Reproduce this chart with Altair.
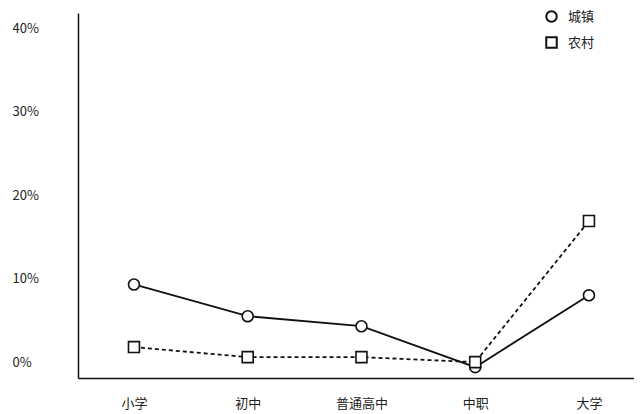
import altair as alt
import pandas as pd

categories = ["小学", "初中", "普通高中", "中职", "大学"]
urban = [9.3, 5.5, 4.3, -0.6, 8.0]
rural = [1.8, 0.6, 0.6, 0.0, 16.9]
series_names = ["城镇", "农村"]

rows = []
for s, vals in zip(series_names, [urban, rural]):
    for c, v in zip(categories, vals):
        rows.append({"cat": c, "value": v, "series": s})
df = pd.DataFrame(rows)

font = "Noto Sans CJK SC"

x = alt.X("cat:N", sort=categories, title=None,
          scale=alt.Scale(type="point", padding=0.444, align=0.554),
          axis=alt.Axis(labelAngle=0, ticks=False, labelPadding=19, labelFontSize=13,
                        labelColor="#222", labelFont=font, domainColor="#111", domainWidth=1.5))
y = alt.Y("value:Q", title=None,
          scale=alt.Scale(domain=[-1.9, 41.8], nice=False, zero=False),
          axis=alt.Axis(values=[0, 10, 20, 30, 40], labelExpr="datum.value + '%'", ticks=False,
                        tickSize=0, labelAlign="left", labelPadding=66, labelFontSize=13,
                        labelColor="#222", labelFont=font, grid=False,
                        domainColor="#111", domainWidth=1.5))

legend = alt.Legend(title=None, orient="none", legendX=467, legendY=-3,
                    labelFont=font, labelFontSize=13, labelColor="#222",
                    symbolSize=110, symbolStrokeColor="#111",
                    symbolStrokeWidth=2, symbolOpacity=1,
                    rowPadding=7, labelOffset=10)

base = alt.Chart(df)
line_urban = base.transform_filter(alt.datum.series == series_names[0]).mark_line(
    color="#111", strokeWidth=1.8).encode(x=x, y=y)
line_rural = base.transform_filter(alt.datum.series == series_names[1]).mark_line(
    color="#111", strokeWidth=1.8, strokeDash=[4, 3]).encode(x=x, y=y)

points = base.mark_point(filled=False, fill="white", fillOpacity=1,
                         strokeWidth=1.6, size=120, opacity=1).encode(
    x=x, y=y,
    color=alt.Color("series:N", sort=series_names,
                    scale=alt.Scale(domain=series_names, range=["#111111", "#111111"]),
                    legend=legend),
    shape=alt.Shape("series:N", sort=series_names,
                    scale=alt.Scale(domain=series_names, range=["circle", "square"]),
                    legend=legend),
)

chart = alt.layer(line_urban, line_rural, points).properties(
    width=556, height=365,
    autosize=alt.AutoSizeParams(type="none"),
    padding={"left": 70, "top": 5, "right": 0, "bottom": 33},
    background="white",
).configure_view(strokeWidth=0, stroke="transparent")

chart.save("out.html", embed_options={"renderer": "svg", "actions": False})
